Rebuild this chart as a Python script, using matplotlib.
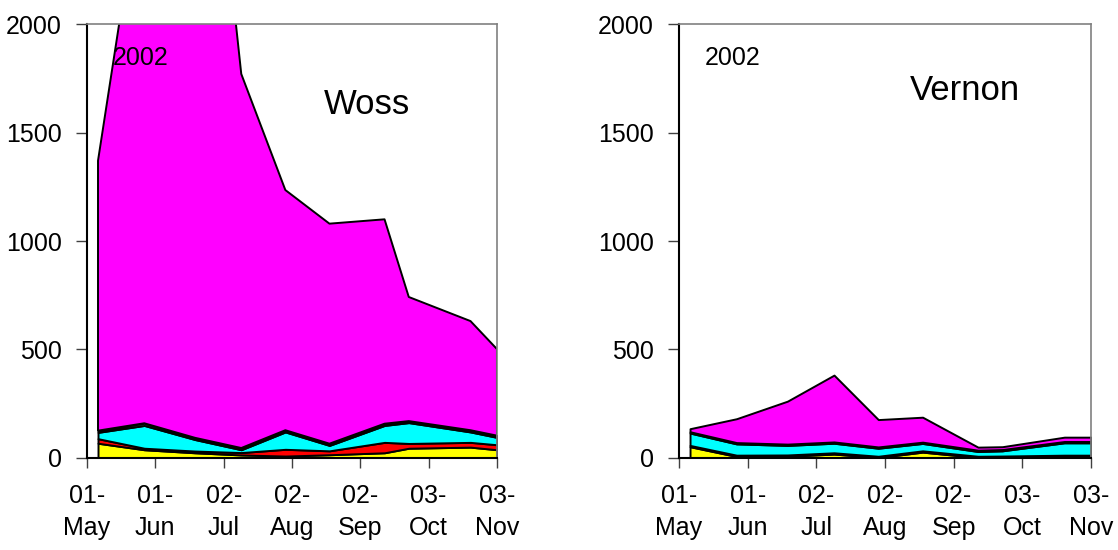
import matplotlib
matplotlib.use("Agg")
import matplotlib.pyplot as plt
import matplotlib.dates as mdates
import numpy as np
import datetime as dt

plt.rcParams['font.family'] = ['Liberation Sans', 'DejaVu Sans']

# Sample dates (2002)
dates = ["2002-05-06", "2002-05-27", "2002-06-19", "2002-07-10", "2002-07-30",
         "2002-08-19", "2002-09-13", "2002-09-24", "2002-10-22", "2002-11-03"]

# Woss layers (stacked, bottom to top)
woss_yellow = [68, 38, 24, 14, 9, 15, 24, 45, 50, 38]
woss_red = [21, 7, 8, 11, 31, 18, 48, 22, 22, 23]
woss_cyan = [29, 105, 53, 13, 80, 25, 78, 96, 48, 34]
woss_green = [8, 10, 8, 8, 8, 8, 8, 7, 8, 8]
woss_magenta = [1244, 2590, 3667, 1724, 1107, 1014, 942, 572, 503, 399]

# Vernon layers
vernon_yellow = [52, 7, 8, 18, 2, 27, 2, 3, 7, 7]
vernon_red = [6, 6, 6, 6, 6, 6, 6, 6, 6, 6]
vernon_cyan = [57, 52, 44, 44, 37, 34, 22, 24, 57, 57]
vernon_green = [6, 6, 6, 6, 6, 6, 6, 6, 6, 6]
vernon_magenta = [14, 110, 198, 308, 126, 115, 14, 13, 20, 20]

tick_dates = ["2002-05-01", "2002-06-01", "2002-07-02", "2002-08-02",
              "2002-09-02", "2002-10-03", "2002-11-03"]
tick_labels = ["01-\nMay", "01-\nJun", "02-\nJul", "02-\nAug", "02-\nSep", "03-\nOct", "03-\nNov"]
y_ticks = [0, 500, 1000, 1500, 2000]

colors = ["#FFFF00", "#FF0000", "#00FFFF", "#339966", "#FF00FF"]


def to_num(ds):
    return mdates.date2num([dt.datetime.strptime(d, "%Y-%m-%d") for d in ds])


fig = plt.figure(figsize=(11.18, 5.5), dpi=100)
panels = [
    ("Woss", [0.0778, 0.1673, 0.3667, 0.789],
     [woss_yellow, woss_red, woss_cyan, woss_green, woss_magenta], (0.683, 0.793)),
    ("Vernon", [0.6073, 0.1673, 0.3685, 0.789],
     [vernon_yellow, vernon_red, vernon_cyan, vernon_green, vernon_magenta], (0.694, 0.825)),
]

x = to_num(dates)
xt = to_num(tick_dates)
for name, rect, layers, tpos in panels:
    ax = fig.add_axes(rect)
    ax.stackplot(x, *[np.array(l, dtype=float) for l in layers], colors=colors,
                 edgecolor="black", linewidth=1.4)
    ax.set_xlim(xt[0], xt[-1])
    ax.set_ylim(0, 2000)
    ax.set_xticks(xt)
    ax.set_xticklabels(tick_labels, fontsize=18, linespacing=1.4)
    ax.set_yticks(y_ticks)
    ax.set_yticklabels([str(v) for v in y_ticks], fontsize=18)
    ax.tick_params(axis="x", direction="out", length=7, width=1, color="#404040", pad=12)
    ax.tick_params(axis="y", direction="out", length=8, width=1, color="#404040", pad=10)
    for s in ["top", "right"]:
        ax.spines[s].set_color("#808080")
        ax.spines[s].set_linewidth(1.2)
    for s in ["left", "bottom"]:
        ax.spines[s].set_color("black")
        ax.spines[s].set_linewidth(1.5)
    ax.spines["bottom"].set_zorder(5)
    ax.text(0.063, 0.906, "2002", transform=ax.transAxes, fontsize=18,
            ha="left", va="baseline")
    ax.text(tpos[0], tpos[1], name, transform=ax.transAxes, fontsize=25,
            ha="center", va="baseline")

fig.savefig("out.png", dpi=100)
